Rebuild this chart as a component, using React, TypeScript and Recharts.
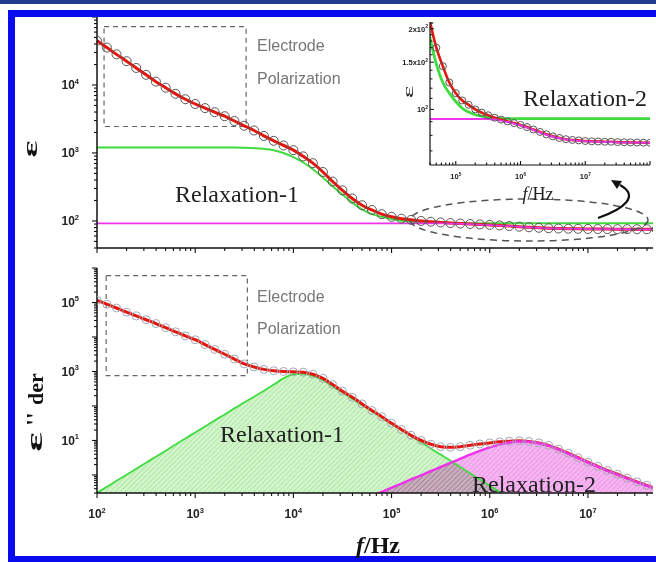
import React from 'react';
import { ComposedChart, Line, Area, XAxis, YAxis, ReferenceArea } from 'recharts';

// measurement grid, 10 points per decade (Hz)
const freqHz = [
  100, 126, 158, 200, 251, 316, 398, 501, 631, 794,
  1000, 1260, 1580, 2000, 2510, 3160, 3980, 5010, 6310, 7940,
  1e4, 1.26e4, 1.58e4, 2e4, 2.51e4, 3.16e4, 3.98e4, 5.01e4, 6.31e4, 7.94e4,
  1e5, 1.26e5, 1.58e5, 2e5, 2.51e5, 3.16e5, 3.98e5, 5.01e5, 6.31e5, 7.94e5,
  1e6, 1.26e6, 1.58e6, 2e6, 2.51e6, 3.16e6, 3.98e6, 5.01e6, 6.31e6, 7.94e6,
  1e7, 1.26e7, 1.58e7, 2e7, 2.51e7, 3.16e7, 3.98e7, 5.01e7, 6.31e7, 7.94e7,
  1e8,
];

// real permittivity: measured / total fit
const epsReal = [
  44700, 35500, 28200, 22400, 17800, 14100, 11200, 9120, 7410, 6170,
  5250, 4570, 3980, 3470, 2950, 2510, 2140, 1780, 1510, 1290,
  1100, 891, 708, 525, 380, 282, 214, 170, 145, 126,
  115, 108, 104, 100, 97.3, 95.1, 93.1, 91.6, 90.2, 88.9,
  87.5, 85.9, 84.1, 82.4, 80.7, 79.3, 78.2, 77.4, 76.9, 76.6,
  76.2, 76.0, 75.9, 75.7, 75.7, 75.5, 75.4, 75.3, 75.2, 75.1,
  75.0,
];

// relaxation-1 step (green)
const relax1Real = [
  1200, 1200, 1200, 1200, 1200, 1200, 1200, 1200, 1200, 1200,
  1200, 1200, 1200, 1200, 1200, 1190, 1175, 1150, 1100, 1000,
  871, 724, 575, 437, 324, 245, 186, 148, 126, 115,
  107, 101, 97.7, 95.5, 94.4, 93.3, 92.7, 92.5, 92.3, 92.3,
  92.3, 92.3, 92.3, 92.3, 92.3, 92.3, 92.3, 92.3, 92.3, 92.3,
  92.3, 92.3, 92.3, 92.3, 92.3, 92.3, 92.3, 92.3, 92.3, 92.3,
  92.3,
];

// relaxation-2 step (magenta)
const relax2Real = [
  92, 92, 92, 92, 92, 92, 92, 92, 92, 92,
  92, 92, 92, 92, 92, 92, 92, 92, 92, 92,
  92, 92, 92, 92, 92, 92, 92, 92, 92, 92,
  92, 92, 92, 92, 92, 92, 91.6, 90.8, 89.7, 88.5,
  87.1, 85.5, 83.8, 82.0, 80.4, 79.1, 78.0, 77.3, 76.7, 76.4,
  76.0, 75.9, 75.7, 75.5, 75.5, 75.3, 75.3, 75.2, 75.2, 75.0,
  75.0,
];

// derivative loss: measured / total fit
const epsDer = [
  115000, 89100, 69200, 52500, 40700, 31600, 24500, 18600, 14100, 10700,
  8320, 6030, 4370, 3160, 2290, 1660, 1350, 1150, 1050, 1000,
  977, 955, 832, 631, 417, 269, 178, 115, 74.1, 49.0,
  31.6, 20.9, 14.1, 10.0, 7.76, 6.61, 6.31, 6.61, 7.24, 7.94,
  8.51, 9.12, 9.55, 9.77, 9.33, 8.51, 7.24, 5.62, 4.27, 3.16,
  2.34, 1.78, 1.35, 1.05, 0.813, 0.631, 0.501, 0.398, 0.316, 0.251,
  0.2,
];

const relax1Der = [
  0.302, 0.452, 0.676, 1.01, 1.51, 2.26, 3.39, 5.07, 7.59, 11.4,
  17.0, 25.4, 38.0, 56.9, 85.1, 126, 186, 275, 417, 631,
  832, 851, 741, 562, 372, 245, 162, 107, 70.8, 46.8,
  30.9, 20.4, 13.5, 8.91, 5.89, 3.89, 2.57, 1.70, 1.12, 0.741,
  0.49, 0.324, 0.214, null, null, null, null, null, null, null,
  null, null, null, null, null, null, null, null, null, null,
  null,
];

const relax2Der = [
  null, null, null, null, null, null, null, null, null, null,
  null, null, null, null, null, null, null, null, null, null,
  null, null, null, null, null, null, null, null, 0.245, 0.324,
  0.427, 0.562, 0.741, 0.977, 1.29, 1.70, 2.24, 2.95, 3.89, 5.01,
  6.31, 7.59, 8.71, 9.33, 9.12, 8.32, 7.08, 5.50, 4.17, 3.09,
  2.29, 1.74, 1.32, 1.02, 0.794, 0.617, 0.49, 0.389, 0.309, 0.245,
  0.195,
];

// tick labels (exponents of ten)
const xLabelExps = [2, 3, 4, 5, 6, 7];
const topYLabelExps = [2, 3, 4];
const botYLabelExps = [1, 3, 5];
const insetXLabelExps = [5, 6, 7];
const insetYTicks = [70, 80, 90, 100, 110, 120, 130, 140, 150, 160, 170, 180, 190, 200, 210];
const insetYLabels: Record<number, string> = { 200: '2x10', 150: '1.5x10', 100: '10' };

const rows = freqHz.map((f, i) => ({
  f,
  eps: epsReal[i],
  r1: relax1Real[i],
  r2: relax2Real[i],
  der: epsDer[i],
  d1: relax1Der[i],
  d2: relax2Der[i],
}));

const SANS = '"Liberation Sans", Arial, sans-serif';
const SERIF = '"Liberation Serif", "Times New Roman", serif';
const RED = '#e5160e';
const GREEN = '#3fdc3f';
const PINK = '#ee34ea';

function logTicks(lo: number, hi: number) {
  const out: number[] = [];
  for (let e = Math.floor(Math.log10(lo)); e <= Math.ceil(Math.log10(hi)); e++) {
    for (let m = 1; m < 10; m++) {
      const v = m * Math.pow(10, e);
      if (v >= lo * 0.999 && v <= hi * 1.001) out.push(v);
    }
  }
  return out;
}

const isDecade = (v: number) => Math.abs(Math.log10(v) - Math.round(Math.log10(v))) < 1e-6;

type TickOpts = { exps: number[]; dir: 1 | -1; major: number; minor: number; font: number; gap: number };

const xTick = (o: TickOpts) => (p: any) => {
  const v = p.payload.value as number;
  const dec = isDecade(v);
  const e = Math.round(Math.log10(v));
  return (
    <g>
      <line x1={p.x} x2={p.x} y1={p.y} y2={p.y + o.dir * (dec ? o.major : o.minor)} stroke="#111" strokeWidth={1.1} />
      {dec && o.exps.includes(e) && (
        <text x={p.x} y={p.y + o.gap} textAnchor="middle" fontFamily={SANS} fontWeight="bold" fontSize={o.font} fill="#222">
          10<tspan dy={-o.font * 0.45} fontSize={o.font * 0.62}>{e}</tspan>
        </text>
      )}
    </g>
  );
};

const yTick = (o: TickOpts) => (p: any) => {
  const v = p.payload.value as number;
  const dec = isDecade(v);
  const e = Math.round(Math.log10(v));
  return (
    <g>
      <line x1={p.x} x2={p.x + o.dir * (dec ? o.major : o.minor)} y1={p.y} y2={p.y} stroke="#111" strokeWidth={1.1} />
      {dec && o.exps.includes(e) && (
        <text x={p.x - o.gap} y={p.y + o.font * 0.35} textAnchor="end" fontFamily={SANS} fontWeight="bold" fontSize={o.font} fill="#222">
          10<tspan dy={-o.font * 0.45} fontSize={o.font * 0.62}>{e}</tspan>
        </text>
      )}
    </g>
  );
};

const insetYTick = (p: any) => {
  const v = p.payload.value as number;
  const label = insetYLabels[v];
  return (
    <g>
      <line x1={p.x} x2={p.x + (label ? 4 : 2.5)} y1={p.y} y2={p.y} stroke="#111" strokeWidth={1} />
      {label && (
        <text x={p.x - 2} y={p.y + 3} textAnchor="end" fontFamily={SANS} fontWeight="bold" fontSize={7.5} fill="#222">
          {label}<tspan dy={-3.5} fontSize={5}>2</tspan>
        </text>
      )}
    </g>
  );
};

const axisLine = { stroke: '#111', strokeWidth: 1.5 };

const TopPanel = () => (
  <ComposedChart width={656} height={260} data={rows} margin={{ top: 17, right: 3, bottom: 0, left: 0 }}
    style={{ position: 'absolute', left: 0, top: 0 }}>
    <XAxis dataKey="f" type="number" scale="log" domain={[100, 4.6e7]} allowDataOverflow
      ticks={logTicks(100, 4.6e7)} interval={0} tickSize={0} tickMargin={0} tickLine={false} height={12}
      tick={xTick({ exps: [], dir: 1, major: 5, minor: 3, font: 12, gap: 0 })} axisLine={axisLine} />
    <XAxis xAxisId="top" orientation="top" type="number" scale="log" domain={[100, 4.6e7]} allowDataOverflow
      tick={false} tickLine={false} height={0} axisLine={axisLine} />
    <YAxis type="number" scale="log" domain={[40, 1e5]} allowDataOverflow width={97}
      ticks={logTicks(40, 1e5)} interval={0} tickSize={0} tickMargin={0} tickLine={false}
      tick={yTick({ exps: topYLabelExps, dir: -1, major: 5, minor: 3, font: 12, gap: 18 })} axisLine={axisLine} />
    <YAxis yAxisId="right" orientation="right" type="number" scale="log" domain={[40, 1e5]} allowDataOverflow
      width={0} tick={false} tickLine={false} axisLine={axisLine} />
    <ReferenceArea x1={118} x2={3300} y1={2450} y2={72000} fill="none" stroke="#666" strokeWidth={1.2} strokeDasharray="5 4" />
    <Line dataKey="eps" stroke="none" isAnimationActive={false} activeDot={false}
      dot={{ r: 4.5, stroke: '#5c5656', strokeWidth: 1, fill: 'none' }} />
    <Line dataKey="r1" type="monotone" stroke={GREEN} strokeWidth={2} dot={false} isAnimationActive={false} />
    <Line dataKey="eps" type="monotone" stroke={RED} strokeWidth={3} dot={false} isAnimationActive={false} />
    <Line dataKey="r2" type="monotone" stroke={PINK} strokeWidth={1.8} dot={false} isAnimationActive={false} />
  </ComposedChart>
);

const InsetPanel = () => (
  <ComposedChart width={276} height={210} data={rows} margin={{ top: 22, right: 6, bottom: 0, left: 0 }}
    style={{ position: 'absolute', left: 380, top: 0 }}>
    <XAxis dataKey="f" type="number" scale="log" domain={[4e4, 1e8]} allowDataOverflow
      ticks={logTicks(4e4, 1e8)} interval={0} tickSize={0} tickMargin={0} tickLine={false} height={45}
      tick={xTick({ exps: insetXLabelExps, dir: -1, major: 4, minor: 2.5, font: 7.5, gap: 14 })}
      axisLine={{ stroke: '#111', strokeWidth: 1.2 }} />
    <XAxis xAxisId="top" orientation="top" type="number" scale="log" domain={[4e4, 1e8]} allowDataOverflow
      tick={false} tickLine={false} height={0} axisLine={{ stroke: '#111', strokeWidth: 1.2 }} />
    <YAxis type="number" scale="log" domain={[62, 212]} allowDataOverflow width={50}
      ticks={insetYTicks} interval={0} tickSize={0} tickMargin={0} tickLine={false}
      tick={insetYTick} axisLine={{ stroke: '#111', strokeWidth: 1.2 }} />
    <YAxis yAxisId="right" orientation="right" type="number" scale="log" domain={[62, 212]} allowDataOverflow
      width={0} tick={false} tickLine={false} axisLine={{ stroke: '#111', strokeWidth: 1.2 }} />
    <Line dataKey="eps" stroke="none" isAnimationActive={false} activeDot={false}
      dot={{ r: 3.5, stroke: '#5c5656', strokeWidth: 1, fill: 'none' }} />
    <Line dataKey="r1" type="monotone" stroke={GREEN} strokeWidth={2.8} dot={false} isAnimationActive={false} />
    <Line dataKey="eps" type="monotone" stroke={RED} strokeWidth={2.6} dot={false} isAnimationActive={false} />
    <Line dataKey="r2" type="monotone" stroke={PINK} strokeWidth={2} dot={false} isAnimationActive={false} />
  </ComposedChart>
);

const BottomPanel = () => (
  <ComposedChart width={656} height={307} data={rows} margin={{ top: 13, right: 3, bottom: 0, left: 0 }}
    style={{ position: 'absolute', left: 0, top: 255 }}>
    <defs>
      <pattern id="hatchGreen" width="3.5" height="3.5" patternUnits="userSpaceOnUse" patternTransform="rotate(45)">
        <rect width="3.5" height="3.5" fill="#d3f5cb" />
        <line x1="0" y1="0" x2="0" y2="3.5" stroke="#97dc8f" strokeWidth="1.1" />
      </pattern>
      <pattern id="hatchPink" width="3.5" height="3.5" patternUnits="userSpaceOnUse" patternTransform="rotate(45)">
        <rect width="3.5" height="3.5" fill="#f6b4f1" />
        <line x1="0" y1="0" x2="0" y2="3.5" stroke="#e486dc" strokeWidth="1.1" />
      </pattern>
    </defs>
    <XAxis dataKey="f" type="number" scale="log" domain={[100, 4.6e7]} allowDataOverflow
      ticks={logTicks(100, 4.6e7)} interval={0} tickSize={0} tickMargin={0} tickLine={false} height={69}
      tick={xTick({ exps: xLabelExps, dir: 1, major: 5, minor: 3, font: 12, gap: 25 })} axisLine={axisLine} />
    <XAxis xAxisId="top" orientation="top" type="number" scale="log" domain={[100, 4.6e7]} allowDataOverflow
      tick={false} tickLine={false} height={0} axisLine={axisLine} />
    <YAxis type="number" scale="log" domain={[0.3, 1e6]} allowDataOverflow width={97}
      ticks={logTicks(0.3, 1e6)} interval={0} tickSize={0} tickMargin={0} tickLine={false}
      tick={yTick({ exps: botYLabelExps, dir: -1, major: 5, minor: 3, font: 12, gap: 18 })} axisLine={axisLine} />
    <YAxis yAxisId="right" orientation="right" type="number" scale="log" domain={[0.3, 1e6]} allowDataOverflow
      width={0} tick={false} tickLine={false} axisLine={axisLine} />
    <Area dataKey="d1" type="monotone" baseValue="dataMin" fill="url(#hatchGreen)" fillOpacity={1} stroke="none"
      isAnimationActive={false} activeDot={false} />
    <Area dataKey="d2" type="monotone" baseValue="dataMin" fill="url(#hatchPink)" fillOpacity={1} stroke="none"
      className="blend" isAnimationActive={false} activeDot={false} />
    <ReferenceArea x1={124} x2={3400} y1={760} y2={600000} fill="none" stroke="#666" strokeWidth={1.2} strokeDasharray="5 4" />
    <Line dataKey="der" stroke="none" isAnimationActive={false} activeDot={false}
      dot={{ r: 4, stroke: '#a3a8b6', strokeWidth: 1, fill: 'none' }} />
    <Line dataKey="d1" type="monotone" stroke={GREEN} strokeWidth={1.8} dot={false} isAnimationActive={false} />
    <Line dataKey="der" type="monotone" stroke={RED} strokeWidth={3} dot={false} isAnimationActive={false} />
    <Line dataKey="d2" type="monotone" stroke={PINK} strokeWidth={2.5} dot={false} isAnimationActive={false} />
  </ComposedChart>
);

const Annotations = () => (
  <svg width={656} height={562} style={{ position: 'absolute', left: 0, top: 0, pointerEvents: 'none' }}>
    <rect x={0} y={0} width={656} height={4} fill="#1f3d8c" />
    <rect x={11.5} y={13.5} width={650} height={546} fill="none" stroke="#0a0aee" strokeWidth={7} />

    <g fontFamily={SANS} fontSize={16} fill="#777">
      <text x={257} y={51}>Electrode</text>
      <text x={257} y={84}>Polarization</text>
      <text x={257} y={302}>Electrode</text>
      <text x={257} y={334}>Polarization</text>
    </g>

    <g fontFamily={SERIF} fontSize={24} fill="#222">
      <text x={175} y={202}>Relaxation-1</text>
      <text x={220} y={442}>Relaxation-1</text>
      <text x={472} y={492}>Relaxation-2</text>
      <text x={523} y={106}>Relaxation-2</text>
    </g>

    <ellipse cx={529} cy={220} rx={119} ry={21} fill="none" stroke="#555" strokeWidth={1.5} strokeDasharray="7 5" />
    <path d="M598 218 C624 209 640 196 620 185" fill="none" stroke="#111" strokeWidth={2.2} />
    <path d="M611 180 L622 181 L617 189 Z" fill="#111" />

    <text fontFamily={SERIF} fontWeight="bold" fontSize={24} x={378} y={553} textAnchor="middle" fill="#111">
      <tspan fontStyle="italic">f</tspan>/Hz
    </text>
    <text fontFamily={SERIF} fontSize={18} x={538} y={200} textAnchor="middle" fill="#222">
      <tspan fontStyle="italic">f</tspan>/Hz
    </text>

    <text transform="translate(37,149) rotate(-90) scale(1.8,1)" textAnchor="middle" fontFamily={SERIF}
      fontWeight="bold" fontSize={22} fill="#111">ε</text>
    <text transform="translate(42,442) rotate(-90) scale(1.9,1)" textAnchor="middle" fontFamily={SERIF}
      fontWeight="bold" fontSize={24} fill="#111">ε</text>
    <text transform="translate(42,419) rotate(-90)" textAnchor="middle" fontFamily={SERIF}
      fontWeight="bold" fontSize={24} fill="#111">''</text>
    <text transform="translate(43,389) rotate(-90)" textAnchor="middle" fontFamily={SERIF}
      fontWeight="bold" fontSize={22} fill="#111">der</text>
    <text transform="translate(413,92) rotate(-90) scale(2,1)" textAnchor="middle" fontFamily={SERIF}
      fontSize={15} fill="#222">ε</text>
  </svg>
);

export default function App() {
  return (
    <div style={{ position: 'relative', width: 656, height: 562, background: '#fff', overflow: 'hidden' }}>
      <style>{`body{margin:0} .blend{mix-blend-mode:multiply}`}</style>
      <TopPanel />
      <BottomPanel />
      <InsetPanel />
      <Annotations />
    </div>
  );
}
